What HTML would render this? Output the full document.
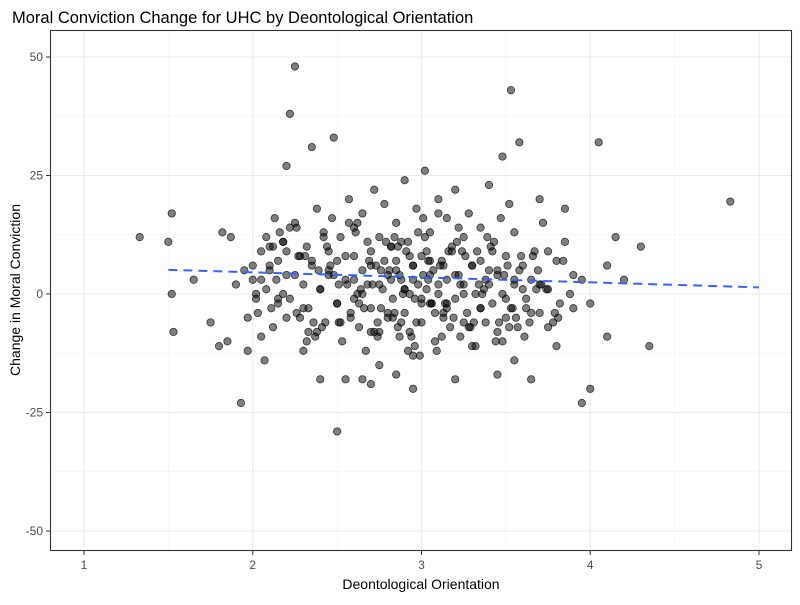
<!DOCTYPE html>
<html><head><meta charset="utf-8"><style>
body{margin:0;background:#fff;font-family:"Liberation Sans",sans-serif}
svg text{font-family:"Liberation Sans",sans-serif}
</style></head><body>
<svg id="chart" width="800" height="600" viewBox="0 0 800 600">
<rect width="800" height="600" fill="#fff"/>
<text x="12" y="23" font-size="16.5" fill="#000">Moral Conviction Change for UHC by Deontological Orientation</text>
<g id="grid"></g>
<g id="pts"></g>
<g id="fit"></g>
<rect x="50.5" y="30.5" width="741" height="520" fill="none" stroke="#333" stroke-width="1.1"/>
<g id="axes"></g>
<text x="421" y="589" font-size="14" text-anchor="middle" fill="#000">Deontological Orientation</text>
<text transform="translate(20,290) rotate(-90)" font-size="14" text-anchor="middle" fill="#000">Change in Moral Conviction</text>
</svg>
<script>
const xTicks=[1,2,3,4,5];
const yTicks=[-50,-25,0,25,50];
const fitX=[1.5,5];
const fitY=[5.1,1.4];
const ptsX=[1.33,1.5,1.52,1.52,1.53,1.65,1.75,1.8,1.82,1.85,1.87,1.9,1.93,1.95,1.97,1.97,2.0,2.02,2.05,2.07,2.1,2.13,2.18,2.2,2.22,2.25,2.3,2.35,2.4,2.48,2.5,2.55,2.65,2.7,2.75,2.85,2.95,3.2,3.45,3.55,3.65,3.53,3.58,3.48,3.7,3.85,3.95,4.0,4.05,4.1,4.15,4.35,4.83,4.2,4.1,4.0,3.9,3.75,3.8,4.3,
2.0,2.03,2.05,2.08,2.1,2.12,2.15,2.15,2.18,2.2,2.22,2.25,2.27,2.28,2.3,2.32,2.33,2.35,2.37,2.38,2.4,2.42,2.43,2.45,2.45,2.47,2.5,2.5,2.52,2.53,2.55,2.57,2.58,2.6,2.6,2.62,2.63,2.65,2.65,2.67,2.68,2.7,2.7,2.72,2.73,2.75,2.75,2.77,2.78,2.8,2.8,2.82,2.83,2.85,2.85,2.87,2.88,2.9,2.9,2.92,2.93,2.95,2.95,2.97,2.98,3.0,3.0,3.02,3.03,3.05,3.05,3.07,3.08,3.1,3.1,3.12,3.13,3.15,3.15,3.17,3.18,3.2,3.2,3.22,3.23,3.25,3.25,3.27,3.28,3.3,3.3,3.32,3.33,3.35,3.35,3.37,3.38,3.4,3.4,3.42,3.43,3.45,3.45,3.47,3.48,3.5,3.5,3.52,3.53,3.55,3.55,3.57,3.6,3.62,3.65,3.67,3.7,3.72,3.75,3.78,3.8,3.82,3.85,3.88,3.9,3.95,
2.1,2.15,2.2,2.25,2.3,2.35,2.4,2.45,2.5,2.55,2.6,2.65,2.7,2.75,2.8,2.85,2.9,2.95,3.0,3.05,3.1,3.15,3.2,3.25,3.3,3.35,3.4,3.45,3.5,3.55,3.6,3.65,3.7,3.75,2.12,2.22,2.32,2.42,2.52,2.62,2.72,2.82,2.92,3.02,3.12,3.22,3.32,3.42,3.52,3.62,2.18,2.28,2.38,2.48,2.58,2.68,2.78,2.88,2.98,3.08,3.18,3.28,3.38,3.48,3.58,3.68,2.05,2.26,2.46,2.66,2.86,3.06,3.26,3.46,3.66,2.16,2.36,2.56,2.76,2.96,3.16,3.36,3.56,2.9,2.95,3.0,3.05,2.82,2.88,3.1,3.15,2.7,2.6,3.35,3.25,2.55,3.45];
const ptsY=[12,11,17,0,-8,3,-6,-11,13,-10,12,2,-23,5,-5,-12,6,0,-9,-14,10,16,11,27,38,48,-12,31,-18,33,-29,-18,-18,-19,-15,-17,-20,-18,-17,-14,-18,43,32,29,20,18,-23,-20,32,-9,12,-11,19.5,3,6,-2,4,9,-11,10,
3,-4,9,1,5,-7,7,-2,11,4,-1,15,8,-5,2,10,-3,6,-9,18,1,13,-6,4,9,16,-2,7,12,-10,3,20,-4,8,14,0,-7,5,17,-12,2,9,-3,22,6,-8,12,1,19,4,-5,10,-1,15,7,-9,3,24,-4,11,0,6,-13,18,2,-6,8,26,1,-2,13,5,-10,20,0,7,-5,3,16,-7,10,-1,22,4,-9,12,2,-4,17,6,-11,0,9,-3,14,1,-6,23,5,-2,11,-8,4,16,0,-5,8,19,-3,2,13,-7,6,-1,3,9,-4,15,1,-6,7,-2,11,0,-3,
3,6,-1,9,4,-3,7,1,5,-2,8,3,0,6,2,-4,5,1,3,-1,7,2,-2,4,0,6,-3,2,5,-1,3,1,-4,2,-7,10,14,-10,12,-6,15,-8,10,-12,12,-9,14,-11,9,-7,-3,0,8,-8,4,-5,11,7,-6,13,-4,9,-7,3,-10,5,1,3,-4,6,-3,10,-2,8,-6,8,13,-6,2,5,-1,9,0,-5,1,6,-2,4,3,11,17,-3,-8,-1,7,-6];
const extraX=[2.02,2.08,2.14,2.2,2.26,2.33,2.39,2.44,2.51,2.57,2.63,2.69,2.74,2.79,2.84,2.89,2.93,2.97,3.01,3.04,3.09,3.13,3.19,3.24,3.29,3.34,3.39,3.44,3.49,3.54,3.59,3.64,3.69,3.74,3.79,3.84,2.71,2.76,2.81,2.86,2.91,2.96,3.01,3.06,3.11,2.83,2.93,3.03,3.13,3.23,2.64,2.74,2.84,2.94,3.04,3.14,2.11,2.31,2.41,2.51,2.61,3.71,3.81,3.61,3.51,3.41,3.31,3.21,2.99,2.87];
const extraY=[-1,12,3,-5,14,-8,5,10,-6,15,-2,7,-9,11,-4,0,8,-6,16,3,-12,6,-5,9,-7,2,12,-10,4,-3,8,-6,5,1,-4,7,2,-3,5,-7,9,-11,4,-2,6,-5,-8,9,-4,2,1,-6,12,-9,7,-2,-3,8,-7,2,13,2,-5,-9,6,10,-6,11,-13,4];
const X=v=>84+(v-1)*168.75, Y=v=>294-v*4.74;
const ns="http://www.w3.org/2000/svg";
function mk(t,a,p){const e=document.createElementNS(ns,t);for(const k in a)e.setAttribute(k,a[k]);p.appendChild(e);return e;}
const grid=document.getElementById('grid');
[1.5,2.5,3.5,4.5].forEach(v=>{const l=mk('line',{x1:X(v),x2:X(v),y1:30,y2:551,stroke:'#f2f2f2','stroke-width':0.6},grid);});
[-37.5,-12.5,12.5,37.5].forEach(v=>{const l=mk('line',{x1:50,x2:792,y1:Y(v),y2:Y(v),stroke:'#f2f2f2','stroke-width':0.6},grid);});
const axes=document.getElementById('axes');
xTicks.forEach(v=>{const l=mk('line',{x1:X(v),x2:X(v),y1:30,y2:551,stroke:'#ebebeb','stroke-width':1.1},grid);
const t=mk('line',{x1:X(v),x2:X(v),y1:551,y2:555,stroke:'#333'},axes);
const s=mk('text',{x:X(v),y:569,'font-size':12,'text-anchor':'middle',fill:'#4d4d4d'},axes);s.textContent=v;});
yTicks.forEach(v=>{const l=mk('line',{x1:50,x2:792,y1:Y(v),y2:Y(v),stroke:'#ebebeb','stroke-width':1.1},grid);
const t=mk('line',{x1:46,x2:50,y1:Y(v),y2:Y(v),stroke:'#333'},axes);
const s=mk('text',{x:43,y:Y(v)+4,'font-size':12,'text-anchor':'end',fill:'#4d4d4d'},axes);s.textContent=v;});
const pts=document.getElementById('pts');
function drawPts(xs,ys){const n=Math.min(xs.length,ys.length);
for(let i=0;i<n;i++){const c=mk('circle',{cx:X(xs[i]),cy:Y(ys[i]),r:3.7,fill:'rgba(0,0,0,0.5)',stroke:'rgba(0,0,0,0.7)','stroke-width':0.8},pts);

}}
drawPts(ptsX,ptsY);
drawPts(extraX,extraY);
const f=mk('line',{x1:X(fitX[0]),y1:Y(fitY[0]),x2:X(fitX[1]),y2:Y(fitY[1]),stroke:'#3366ff','stroke-width':2,'stroke-dasharray':'9,6'},document.getElementById('fit'));


</script>
</body></html>
